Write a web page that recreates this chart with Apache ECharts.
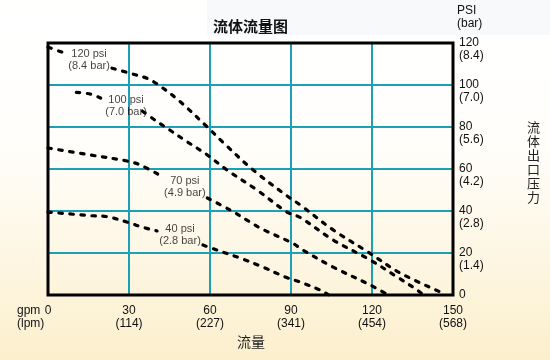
<!DOCTYPE html>
<html><head><meta charset="utf-8">
<script src="https://cdn.jsdelivr.net/npm/echarts@6/dist/echarts.min.js"></script>
<style>html,body{margin:0;padding:0;}#c{width:550px;height:360px;}</style>
</head><body><div id="c"></div>
<script>
// ---- data ----
var xTicks = [0, 30, 60, 90, 120, 150];
var xTickLpm = ['', '(114)', '(227)', '(341)', '(454)', '(568)'];
var yTicks = [0, 20, 40, 60, 80, 100, 120];
var yTickBar = ['', '(1.4)', '(2.8)', '(4.2)', '(5.6)', '(7.0)', '(8.4)'];

var p120a = [[0, 118], [5.5, 115.5]];
var p120b = [[23.7, 108], [32, 105], [37, 103], [41.5, 99.5], [49, 92], [59, 80], [65, 72.5], [76, 59.5], [89.6, 46.2], [93.3, 43], [105.6, 31], [118.5, 20.5], [130.4, 10.5], [147, 0.5]];
var p100a = [[10.5, 96.5], [15.6, 95.7], [19.5, 93.8]];
var p100b = [[35, 87.5], [39.6, 83.3], [44, 79.5], [51.5, 73], [59, 66.7], [66.3, 59.5], [77.4, 50], [88.5, 39.5], [93.3, 37], [105.6, 26.2], [119.3, 16.7], [129.3, 8.6], [136.7, 2.4], [139, 0]];
var p70a = [[0, 70], [15.6, 66.7], [29.3, 63.8], [34, 62], [41.5, 57]];
var p70b = [[59, 46.2], [67.4, 40.5], [74.8, 34.8], [79.6, 31.2], [90.4, 24.8], [94.4, 21.4], [105.6, 13.3], [119.3, 4.8], [126, 0]];
var p40a = [[0, 39.5], [15.6, 37.8], [21.9, 37.3], [30.4, 34.3], [34.1, 32.6], [40.4, 30.5]];
var p40b = [[57.4, 23.8], [62.6, 21.4], [71.1, 17.6], [79.6, 13.3], [87.8, 8.6], [93.3, 6.2], [100.7, 2.4], [104, 0]];

var curveLabels = ['120 psi\n(8.4 bar)', '100 psi\n(7.0 bar)', '70 psi\n(4.9 bar)', '40 psi\n(2.8 bar)'];
var labelAt = [[15.2, 112], [28.9, 90], [50.7, 51.4], [48.9, 28.6]];

// ---- chart ----
var FONT = '"Liberation Sans", Arial, "Noto Sans CJK SC", sans-serif';
var CJK = '"Noto Sans CJK SC", sans-serif';
var chart = echarts.init(document.getElementById('c'), null, {renderer: 'canvas'});

function curve(d) {
  return {
    type: 'line', data: d, smooth: 0.35, symbol: 'none', silent: true, z: 3,
    lineStyle: {color: '#000', width: 3.2, type: [3.5, 7.5], cap: 'round'}
  };
}
var segs = [p120a, p120b, p100a, p100b, p70a, p70b, p40a, p40b];
var series = segs.map(curve);
series.push({
  type: 'scatter', symbolSize: 0, silent: true, z: 4,
  data: labelAt.map(function (p, i) { return {value: p, name: curveLabels[i]}; }),
  label: {show: true, position: 'inside', formatter: function (p) { return p.name; },
    fontSize: 11, lineHeight: 12, color: '#111', fontFamily: FONT}
});

chart.setOption({
  animation: false,
  backgroundColor: {type: 'linear', x: 0, y: 0, x2: 0, y2: 1, colorStops: [
    {offset: 0, color: '#ffffff'}, {offset: 0.4, color: '#fffefb'}, {offset: 1, color: '#fcefcd'}]},
  graphic: [{type: 'rect', z: -10, silent: true, shape: {x: 207, y: 0, width: 343, height: 35},
    style: {fill: '#f8f9fa'}}],
  title: [
    {text: '流体流量图', left: 213, top: 17, padding: 0, textStyle: {fontSize: 15, fontWeight: 'bold', color: '#111', fontFamily: CJK, lineHeight: 18}},
    {text: '流量', left: 237, top: 334, padding: 0, textStyle: {fontSize: 14, fontWeight: 'normal', color: '#222', fontFamily: CJK, lineHeight: 16}},
    {text: '流\n体\n出\n口\n压\n力', left: 527, top: 120, padding: 0, textStyle: {fontSize: 13, fontWeight: 'normal', color: '#222', fontFamily: CJK, lineHeight: 14}},
    {text: 'PSI\n(bar)', left: 457, top: 4, padding: 0, textStyle: {fontSize: 12, fontWeight: 'normal', color: '#111', fontFamily: FONT, lineHeight: 13}},
    {text: 'gpm\n(lpm)', left: 17, top: 304, padding: 0, textStyle: {fontSize: 12, fontWeight: 'normal', color: '#111', fontFamily: FONT, lineHeight: 13}}
  ],
  grid: {left: 48, right: 97, top: 43, bottom: 65, show: true, z: 10,
    backgroundColor: 'transparent', borderColor: '#000', borderWidth: 3},
  xAxis: {
    type: 'value', min: 0, max: 150, interval: 30, z: 1,
    axisLine: {show: false}, axisTick: {show: false},
    splitLine: {show: true, lineStyle: {color: '#1aa1b6', width: 2}},
    axisLabel: {margin: 9, fontSize: 12, lineHeight: 13, color: '#111', fontFamily: FONT,
      formatter: function (v) { var i = xTicks.indexOf(v); return v === 0 ? '0' : v + '\n' + xTickLpm[i]; }}
  },
  yAxis: {
    type: 'value', position: 'right', min: 0, max: 120, interval: 20, z: 1,
    axisLine: {show: false}, axisTick: {show: false},
    splitLine: {show: true, lineStyle: {color: '#1aa1b6', width: 2}},
    axisLabel: {margin: 6, align: 'left', fontSize: 12, lineHeight: 13, color: '#111', fontFamily: FONT,
      formatter: function (v) { var i = yTicks.indexOf(v); return v === 0 ? '0' : '\n' + v + '\n' + yTickBar[i]; }}
  },
  series: series
});
</script></body></html>
